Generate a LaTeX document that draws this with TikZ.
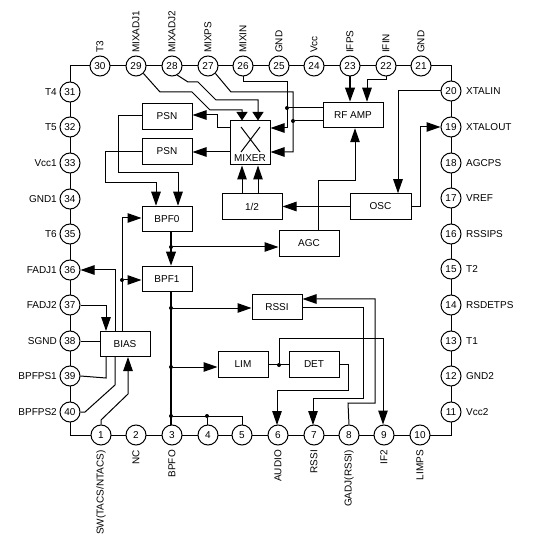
\documentclass[tikz,border=0pt]{standalone}
\usepackage{xcolor}
\usepackage{fontspec}
\setmainfont{Liberation Sans}
\usetikzlibrary{arrows.meta}
\definecolor{icline}{HTML}{000000}
\tikzset{
  wire/.style={draw=icline, line width=1pt},
  sig/.style={wire, -{Triangle[length=14pt,width=9.5pt]}},
  stubsig/.style={wire, -{Triangle[length=8.5pt,width=11pt]}},
  bus/.style={draw=icline, line width=2pt},
  pin/.style={circle, draw=icline, line width=1pt, fill=white, minimum size=20pt, inner sep=0pt, font=\fontsize{10}{11}\selectfont},
  block/.style={draw=icline, line width=1pt, fill=white, minimum width=50pt, minimum height=25.5pt, inner sep=0pt, font=\fontsize{10}{11}\selectfont},
  wideblock/.style={block, minimum width=60pt},
  junction/.style={circle, fill=icline, minimum size=4pt, inner sep=0pt},
  pinname/.style={inner sep=0pt, text=icline, font=\fontsize{10}{11}\selectfont}
}
\begin{document}
\begin{tikzpicture}[x=1pt, y=-1pt]
    \useasboundingbox (0,0) rectangle (554,545);
    % ring corners
    \coordinate (cornerNW) at (70,66);
    \coordinate (cornerSE) at (451,435);
    \draw[wire] (cornerNW) rectangle (cornerSE);

    % pins
    \foreach \num/\x/\name in {30/100/T3, 29/136/MIXADJ1, 28/172/MIXADJ2, 27/208/MIXPS, 26/243/MIXIN,
        25/279/GND, 24/314/Vcc, 23/350/IFPS, 22/386/IFIN, 21/421/GND}{
      \node[pin] (pin\num) at (\x,66) {\num};
      \node[pinname, rotate=90, anchor=west] (name\num) at (\x,53) {\name};
    }
    \foreach \num/\y/\name in {31/92/T4, 32/127/T5, 33/163/Vcc1, 34/199/GND1, 35/234/T6,
        36/270/FADJ1, 37/305/FADJ2, 38/341/SGND, 39/376/BPFPS1, 40/412/BPFPS2}{
      \node[pin] (pin\num) at (70,\y) {\num};
      \node[pinname, anchor=east] (name\num) at (57,\y) {\name};
    }
    \foreach \num/\x/\name in {1/101/{SW(TACS/NTACS)}, 2/136/NC, 3/172/BPFO, 6/278/AUDIO,
        7/314/RSSI, 8/349/GADJ(RSSI), 9/384/IF2, 10/420/LIMPS}{
      \node[pin] (pin\num) at (\x,435) {\num};
      \node[pinname, rotate=90, anchor=east] (name\num) at (\x,450) {\name};
    }
    \node[pin] (pin4) at (208,435) {4};
    \node[pin] (pin5) at (242,435) {5};
    \foreach \num/\y/\name in {20/91/XTALIN, 19/127/XTALOUT, 18/163/AGCPS, 17/198/VREF, 16/234/RSSIPS,
        15/269/T2, 14/305/RSDETPS, 13/341/T1, 12/376/GND2, 11/412/Vcc2}{
      \node[pin] (pin\num) at (451,\y) {\num};
      \node[pinname, anchor=west] (name\num) at (466,\y) {\name};
    }

    % blocks
    \node[block] (psnA) at (167,116.5) {PSN};
    \node[block] (psnB) at (167,151.5) {PSN};
    \node[block, minimum width=40pt, minimum height=44pt] (mixer) at (250,143) {};
    \node[pinname] (mixerlabel) at (250,158) {MIXER};
    \node[wideblock] (half) at (252,206.5) {1/2};
    \node[wideblock] (rfamp) at (353,115) {RF AMP};
    \node[wideblock, minimum width=61pt] (osc) at (380.5,206.5) {OSC};
    \node[wideblock] (agc) at (309,243.5) {AGC};
    \node[block] (bpfA) at (167,219) {BPF0};
    \node[block] (bpfB) at (167,279) {BPF1};
    \node[block] (rssi) at (277,307) {RSSI};
    \node[block] (lim) at (243,364.5) {LIM};
    \node[block] (det) at (314,364.5) {DET};
    \node[block] (bias) at (125,344) {BIAS};
    \draw[wire] (241,127) -- (260,152) (260,127) -- (241,152);

    % junctions
    \node[junction] (dotRfA) at (287,108) {};
    \node[junction] (dotRfB) at (293,121) {};
    \node[junction] (dotAgc) at (171,247) {};
    \node[junction] (dotBias) at (122,280) {};
    \node[junction] (dotRssi) at (171,308) {};
    \node[junction] (dotLim) at (171,367) {};
    \node[junction] (dotFive) at (171,416) {};
    \node[junction] (dotFour) at (207,416) {};
    \node[junction] (dotDet) at (279,365) {};

    % mixer inputs
    \draw[stubsig] (pin29.-45) -- (160,92) -- (192,92) -- (210,110) -- (242,110) -- ([xshift=-8pt]mixer.north);
    \draw[stubsig] (pin28.-60) -- (188,82) -- (198,82) -- (216,100) -- (258,100) -- ([xshift=8pt]mixer.north);
    \draw[sig] (pin27.-45) -- (231,92) -- (293,92) -- (293,152) -- ([yshift=-9pt]mixer.east);
    \draw[sig] (pin26.south) -- (243,82) -- (287,82) -- (287,128) -- ([yshift=15pt]mixer.east);
    \draw[wire] (dotRfA) -- (rfamp.west |- dotRfA);
    \draw[wire] (dotRfB) -- (rfamp.west |- dotRfB);
    \draw[sig] (242,194) -- ([xshift=-8pt]mixer.south);
    \draw[sig] (258,194) -- ([xshift=8pt]mixer.south);

    % mixer to PSN to BPF0
    \draw[sig] ([yshift=15pt]mixer.west) -- (217,128) -- (217,115) -- (psnA.east |- 0,115);
    \draw[sig] ([yshift=-9pt]mixer.west) -- (psnB.east |- 0,152);
    \draw[sig] (psnA.west |- 0,116) -- (118,116) -- (118,173) -- (178,173) -- ([xshift=11pt]bpfA.north);
    \draw[sig] (psnB.west |- 0,152) -- (105,152) -- (105,183) -- (156,183) -- ([xshift=-11pt]bpfA.north);

    % rf amp, osc
    \draw[bus, -{Triangle[length=14pt,width=9.5pt]}] (pin23.south) -- ([xshift=-3pt]rfamp.north);
    \draw[sig] (pin22.south) -- (386,80) -- (367,80) -- ([xshift=14pt]rfamp.north);
    \draw[sig] (318,231) -- (318,181) -- (355,181) -- ([xshift=2pt]rfamp.south);
    \draw[sig] (osc.west) -- (half.east);
    \draw[sig] (osc.east) -- (420,206.5) -- (420,127) -- (pin19.west);
    \draw[sig] (pin20.west) -- (398,91) -- ([xshift=17.5pt]osc.north);

    % filters
    \draw[bus, -{Triangle[length=14pt,width=9.5pt]}] ([xshift=4pt]bpfA.south) -- ([xshift=4pt]bpfB.north);
    \draw[bus] ([xshift=4pt]bpfB.south) -- (171,425);
    \draw[sig] (dotAgc) -- (agc.west |- dotAgc);
    \draw[sig] (dotRssi) -- (rssi.west |- dotRssi);
    \draw[sig] (dotLim) -- (lim.west |- dotLim);
    \draw[wire] (dotFive) -- (242,416) -- (pin5.north);
    \draw[wire] (dotFour) -- (dotFour |- pin4.north);

    % bias
    \draw[wire] (bias.west |- pin38) -- (pin38.east);
    \draw[sig] (pin37.east) -- (106,305) -- (106,331);
    \draw[sig] (115,331) -- (115,270) -- (pin36.east);
    \draw[sig] (122,331) -- (122,218) -- (bpfA.west |- 0,218);
    \draw[sig] (dotBias) -- (bpfB.west |- dotBias);
    \draw[wire] (pin39.east) -- (106,378) -- (106,357);
    \draw[wire] (pin40.east) -- (85,412) -- (115,385) -- (115,357);
    \draw[sig] (pin1.north) -- (101,420) -- (128,394) -- (128,357);

    % detector side
    \draw[wire] (lim.east) -- (det.west);
    \draw[sig] (dotDet) -- (279,338) -- (383,338) -- (pin9.north -| 383,0);
    \draw[sig] (det.east) -- (348,364.5) -- (348,390) -- (277,390) -- (277,425);
    \draw[sig] (rssi.east) -- (363,307) -- (363,398) -- (313,398) -- (313,425);
    \draw[sig] (pin8.north) -- (348,403) -- (375,403) -- (375,299) -- (rssi.east |- 0,299);
  \end{tikzpicture}
\end{document}
